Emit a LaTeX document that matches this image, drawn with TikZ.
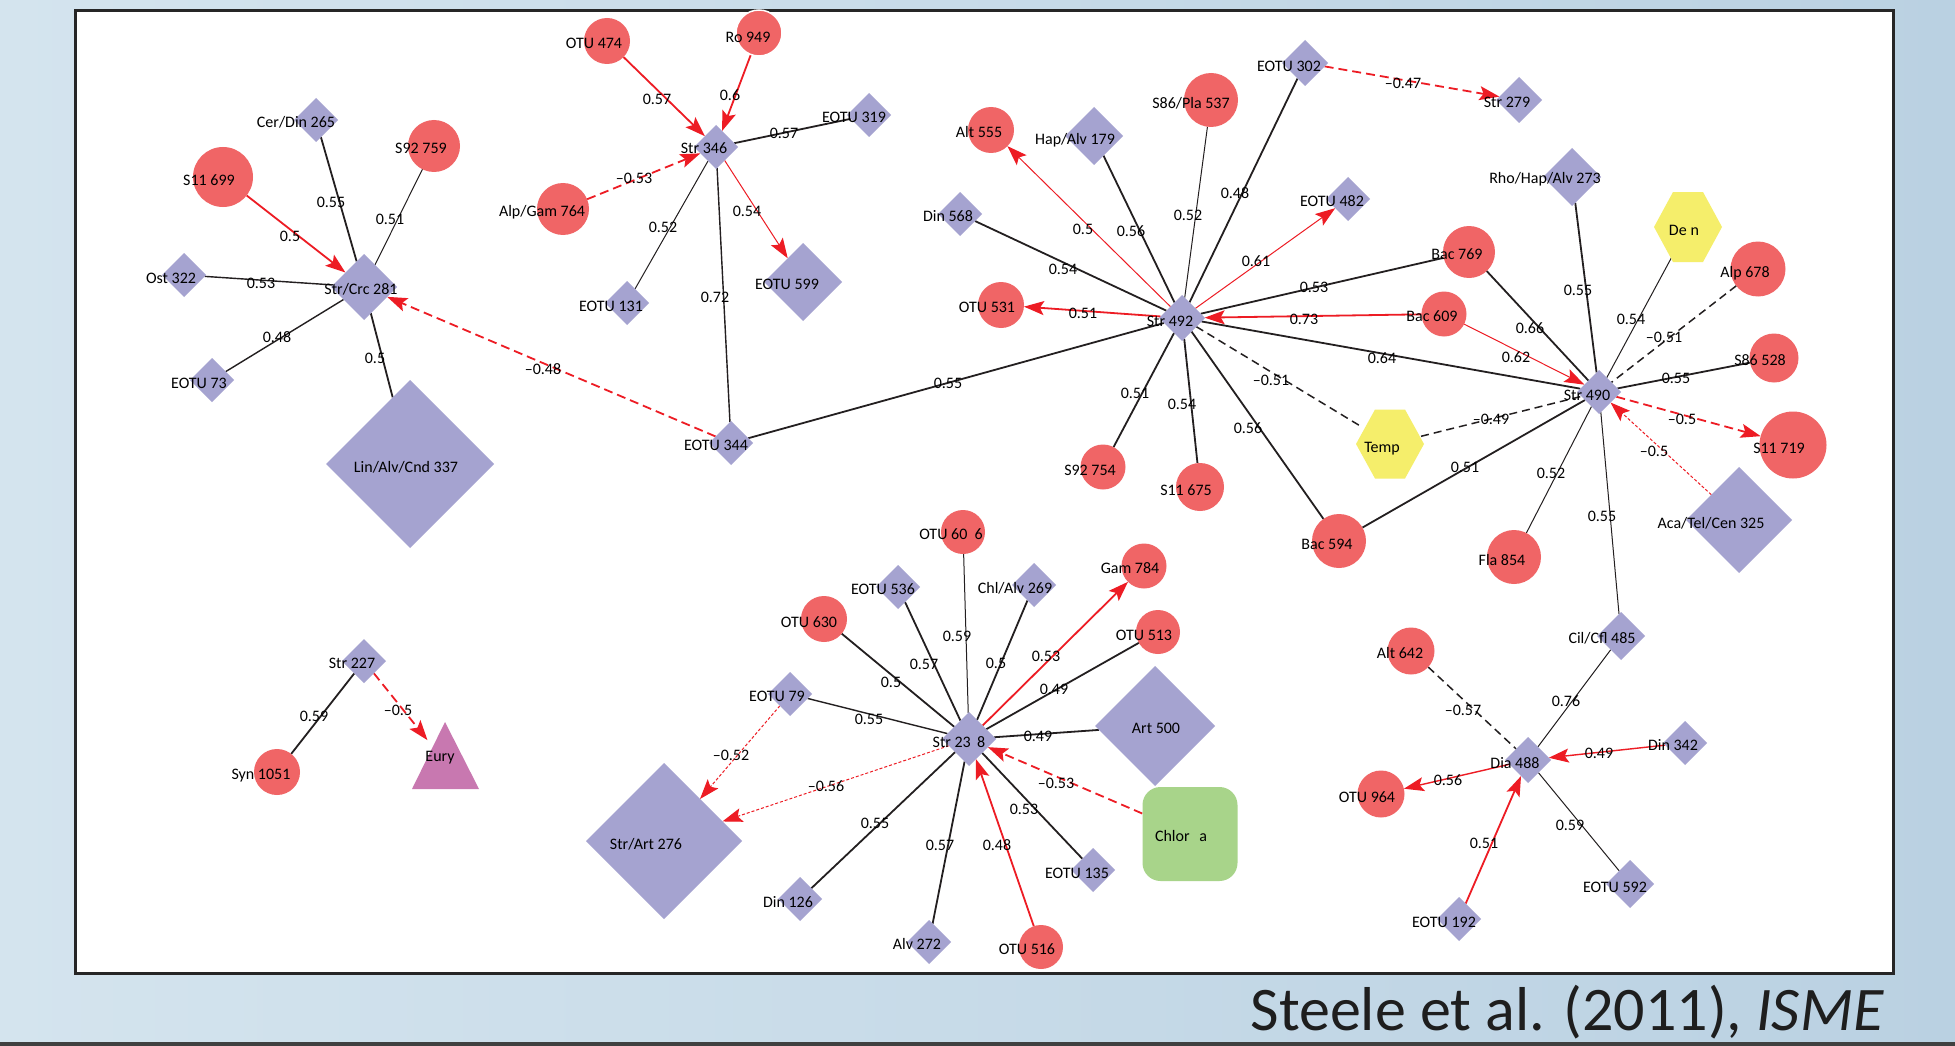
\documentclass[tikz,border=0pt]{standalone}
\usepackage{fontspec}
\setmainfont{Carlito}
\usetikzlibrary{shapes.geometric,arrows.meta}
\definecolor{nred}{RGB}{240,101,102}
\definecolor{nblue}{RGB}{165,163,208}
\definecolor{hexy}{RGB}{245,238,107}
\definecolor{chlg}{RGB}{168,212,138}
\definecolor{euryc}{RGB}{200,120,176}
\definecolor{ered}{RGB}{237,28,36}
\definecolor{eblk}{RGB}{35,31,32}
\definecolor{bgl}{RGB}{212,228,238}
\definecolor{bgr}{RGB}{186,209,226}
\definecolor{capc}{RGB}{30,30,30}
\newcommand\lbfont{\fontsize{16pt}{18pt}\selectfont}
\newcommand\capfont{\fontsize{62pt}{70pt}\selectfont}
\pgfdeclarelayer{back}\pgfdeclarelayer{edges}\pgfdeclarelayer{top}
\pgfsetlayers{back,edges,main,top}
\tikzset{
 circ/.style={circle, fill=nred, inner sep=0pt, outer sep=0pt},
 dia/.style={diamond, aspect=1, fill=nblue, inner sep=0pt, outer sep=0pt},
 inv/.style={circle, inner sep=0pt, outer sep=0pt},
 lb/.style={font=\lbfont, inner sep=0pt, text height=10.3pt, text depth=0pt},
 el/.style={font=\lbfont, inner sep=0pt, text height=10.3pt, text depth=0pt},
 tip/.style={-{Stealth[length=20pt,width=14pt,inset=4pt]}},
 bk/.style={draw=eblk, line width=1.8pt},
 bkm/.style={draw=eblk, line width=1.4pt},
 bkt/.style={draw=eblk, line width=1pt},
 bkd/.style={draw=eblk, line width=1.5pt, dash pattern=on 8pt off 5pt},
 rd/.style={draw=ered, line width=1.8pt, tip},
 rdm/.style={draw=ered, line width=1.4pt, tip},
 rdt/.style={draw=ered, line width=1pt, tip},
 rdd/.style={draw=ered, line width=1.8pt, dash pattern=on 9pt off 5pt, tip},
 rdo/.style={draw=ered, line width=1pt, dash pattern=on 3pt off 2pt, tip},
}
\newcommand\circnode[5]{\node[circ,minimum size=#3pt] (#1) at (#2) {};
 \begin{pgfonlayer}{top}\node[lb] (#1-t) at (#4) {#5};\end{pgfonlayer}}
\newcommand\dianode[5]{\node[dia,minimum size=#3pt] (#1) at (#2) {};
 \begin{pgfonlayer}{top}\node[lb] (#1-t) at (#4) {#5};\end{pgfonlayer}}
\newcommand\edg[5]{\begin{pgfonlayer}{edges}\draw[#1] (#2) -- (#3);\end{pgfonlayer}
 \begin{pgfonlayer}{top}\node[el] (#2-#3) at (#4) {#5};\end{pgfonlayer}}
\begin{document}
\begin{tikzpicture}[x=1pt,y=-1pt]
\useasboundingbox (0,0) rectangle (1955,1046);
\begin{pgfonlayer}{back}
\shade[left color=bgl, right color=bgr] (0,0) rectangle (1955,1046);
\fill[black!75] (0,1042) rectangle (1955,1046);
\draw[fill=white, draw=black!85, line width=3pt] (75,11) rectangle (1893,973);
\end{pgfonlayer}
% nodes
\dianode{n281}{364,287}{66}{361,289}{Str/Crc 281}
\dianode{c265}{316,120}{44}{296,122}{Cer/Din 265}
\circnode{s759}{434,146}{52}{421,148}{S92 759}
\circnode{s699}{223,177}{60}{209,180}{S11 699}
\dianode{o322}{184,275}{44}{171,278}{Ost 322}
\dianode{e73}{212,380}{44}{199,383}{EOTU 73}
\dianode{l337}{410,464}{168}{406,467}{Lin/Alv/Cnd 337}
\dianode{e344}{731,443}{44}{716,445}{EOTU 344}
\dianode{s227}{364,661}{44}{352,663}{Str 227}
\circnode{y1051}{277,772}{46}{261,774}{Syn 1051}
\node[inv, minimum size=56pt] (eury) at (445,762) {};
\fill[euryc] (445,722) -- (479,789) -- (412,789) -- cycle;
\begin{pgfonlayer}{top}\node[lb] (eury-t) at (440,756) {Eury};\end{pgfonlayer}
\circnode{o474}{607,41}{46}{594,43}{OTU 474}
\node[circ, minimum size=46pt, draw=white, line width=1.5pt] (r949) at (759,33) {};
\begin{pgfonlayer}{top}\node[lb] (r949-t) at (748,37) {Ro 949};\end{pgfonlayer}
\dianode{n346}{716,147}{44}{704,148}{Str 346}
\dianode{e319}{869,115}{44}{854,117}{EOTU 319}
\circnode{a764}{563,209}{52}{542,211}{Alp/Gam 764}
\dianode{e131}{627,303}{44}{611,306}{EOTU 131}
\dianode{e599}{803,282}{78}{787,284}{EOTU 599}
\dianode{d568}{960,214}{44}{948,216}{Din 568}
\circnode{a555}{991,130}{46}{979,132}{Alt 555}
\dianode{h179}{1094,136}{58}{1075,139}{Hap/Alv 179}
\circnode{p537}{1211,100}{54}{1191,103}{S86/Pla 537}
\dianode{e302}{1305,63}{46}{1289,66}{EOTU 302}
\dianode{e482}{1348,199}{44}{1332,201}{EOTU 482}
\dianode{n492}{1182,318}{46}{1170,321}{Str 492}
\circnode{o531}{1001,305}{46}{987,307}{OTU 531}
\circnode{b769}{1469,252}{52}{1457,254}{Bac 769}
\circnode{b609}{1444,314}{45}{1432,316}{Bac 609}
\dianode{n279}{1519,100}{46}{1507,102}{Str 279}
\dianode{rho}{1572,177}{58}{1545,178}{Rho/Hap/Alv 273}
\node[inv, minimum size=68pt] (den) at (1688,227) {};
\fill[hexy, shift={(den.center)}] (-34,0) -- (-15,-35) -- (15,-35) -- (34,0) -- (15,35) -- (-15,35) -- cycle;
\begin{pgfonlayer}{top}\node[lb] (den-t) at (1684,230) {De\hspace{0.25em}n};\end{pgfonlayer}
\circnode{a678}{1758,269}{55}{1745,272}{Alp 678}
\circnode{s528}{1774,358}{49}{1760,360}{S86 528}
\dianode{n490}{1599,392}{44}{1587,395}{Str 490}
\circnode{s719}{1793,445}{67}{1779,448}{S11 719}
\dianode{aca}{1739,520}{106}{1711,523}{Aca/Tel/Cen 325}
\circnode{f854}{1514,557}{54}{1502,560}{Fla 854}
\node[inv, minimum size=64pt] (temp) at (1390,444) {};
\fill[hexy, shift={(temp.center)}] (-34,0) -- (-15,-34.5) -- (15,-34.5) -- (34,0) -- (15,34.5) -- (-15,34.5) -- cycle;
\begin{pgfonlayer}{top}\node[lb] (temp-t) at (1382,447) {Temp};\end{pgfonlayer}
\circnode{s754}{1103,467}{45}{1090,470}{S92 754}
\circnode{s675}{1200,487}{48}{1186,490}{S11 675}
\circnode{b594}{1339,541}{54}{1327,544}{Bac 594}
\dianode{cil}{1621,636}{48}{1602,638}{Cil/Cfl 485}
\circnode{a642}{1411,651}{47}{1400,653}{Alt 642}
\dianode{dia}{1528,760}{46}{1515,763}{Dia 488}
\dianode{d342}{1685,743}{44}{1673,745}{Din 342}
\circnode{o964}{1381,794}{47}{1367,797}{OTU 964}
\dianode{e592}{1630,884}{48}{1615,887}{EOTU 592}
\dianode{e192}{1459,919}{44}{1444,922}{EOTU 192}
\circnode{o606}{963,532}{44}{951,534}{OTU 60\hspace{0.45em}6}
\circnode{g784}{1144,566}{45}{1130,568}{Gam 784}
\dianode{e536}{898,587}{44}{883,589}{EOTU 536}
\dianode{c269}{1034,585}{44}{1015,588}{Chl/Alv 269}
\circnode{o630}{824,619}{46}{809,622}{OTU 630}
\circnode{o513}{1158,632}{44}{1144,635}{OTU 513}
\dianode{e79}{790,694}{44}{777,696}{EOTU 79}
\dianode{n238}{969,739}{54}{959,742}{Str 23\hspace{0.4em}8}
\dianode{art500}{1155,726}{120}{1156,728}{Art 500}
\node[rectangle, rounded corners=18pt, fill=chlg, minimum width=95pt, minimum height=94pt, inner sep=0pt] (chl) at (1190,834) {};
\begin{pgfonlayer}{top}\node[lb] (chl-t) at (1181,836) {Chlor\hspace{0.6em}a};\end{pgfonlayer}
\dianode{e135}{1093,870}{44}{1077,873}{EOTU 135}
\dianode{d126}{800,899}{44}{788,902}{Din 126}
\dianode{a272}{929,942}{44}{917,944}{Alv 272}
\circnode{o516}{1041,947}{44}{1027,949}{OTU 516}
\dianode{art276}{664,841}{156}{646,844}{Str/Art 276}
% edges
\edg{rd}{s699}{n281}{290,236}{0.5}
\edg{bk}{c265}{n281}{331,202}{0.55}
\edg{bkt}{s759}{n281}{390,219}{0.51}
\edg{bkm}{o322}{n281}{261,283}{0.53}
\edg{bkm}{e73}{n281}{277,337}{0.48}
\edg{bk}{l337}{n281}{375,358}{0.5}
\edg{rdd}{e344}{n281}{543,369}{–0.48}
\edg{rd}{o474}{n346}{657,99}{0.57}
\edg{rd}{r949}{n346}{730,95}{0.6}
\edg{bk}{e319}{n346}{784,133}{0.57}
\edg{rdd}{a764}{n346}{634,178}{–0.53}
\edg{bkt}{e131}{n346}{663,227}{0.52}
\edg{rdt}{n346}{e599}{747,211}{0.54}
\edg{bkm}{n346}{e344}{715,297}{0.72}
\edg{bk}{e344}{n492}{948,383}{0.55}
\edg{rdt}{n492}{a555}{1083,229}{0.5}
\edg{bk}{h179}{n492}{1131,231}{0.56}
\edg{bkt}{p537}{n492}{1188,215}{0.52}
\edg{bk}{e302}{n492}{1235,193}{0.48}
\edg{rdt}{n492}{e482}{1256,261}{0.61}
\edg{bk}{d568}{n492}{1063,269}{0.54}
\edg{rd}{n492}{o531}{1083,313}{0.51}
\edg{bk}{b769}{n492}{1314,287}{0.53}
\edg{rd}{b609}{n492}{1304,319}{0.73}
\edg{bk}{n492}{n490}{1382,358}{0.64}
\edg{bkd}{n492}{temp}{1271,380}{–0.51}
\edg{bk}{s754}{n492}{1135,393}{0.51}
\edg{bk}{s675}{n492}{1182,404}{0.54}
\edg{bk}{b594}{n492}{1248,428}{0.56}
\edg{rdd}{e302}{n279}{1403,83}{–0.47}
\edg{bk}{rho}{n490}{1578,290}{0.55}
\edg{bk}{b769}{n490}{1530,328}{0.66}
\edg{rdt}{b609}{n490}{1516,357}{0.62}
\edg{bkt}{den}{n490}{1631,319}{0.54}
\edg{bkd}{a678}{n490}{1664,337}{–0.51}
\edg{bk}{s528}{n490}{1676,378}{0.55}
\edg{rdd}{n490}{s719}{1682,419}{–0.5}
\edg{rdo}{aca}{n490}{1654,451}{–0.5}
\edg{bkd}{temp}{n490}{1491,419}{–0.49}
\edg{bk}{b594}{n490}{1465,467}{0.51}
\edg{bkt}{f854}{n490}{1551,473}{0.52}
\edg{bkt}{cil}{n490}{1602,516}{0.55}
\edg{bkt}{cil}{dia}{1566,701}{0.76}
\edg{bkd}{a642}{dia}{1463,710}{–0.57}
\edg{rdm}{d342}{dia}{1599,753}{0.49}
\edg{rdm}{dia}{o964}{1448,780}{0.56}
\edg{rd}{e192}{dia}{1484,843}{0.51}
\edg{bkt}{e592}{dia}{1570,825}{0.59}
\edg{bk}{y1051}{s227}{314,716}{0.59}
\edg{rdd}{s227}{eury}{398,710}{–0.5}
\edg{bkt}{o606}{n238}{957,636}{0.59}
\edg{bk}{e536}{n238}{924,664}{0.57}
\edg{bk}{c269}{n238}{996,663}{0.5}
\edg{rd}{n238}{g784}{1046,656}{0.53}
\edg{bk}{o513}{n238}{1054,689}{0.49}
\edg{bk}{o630}{n238}{891,682}{0.5}
\edg{bkm}{e79}{n238}{869,719}{0.55}
\edg{bk}{art500}{n238}{1038,736}{0.49}
\edg{rdd}{chl}{n238}{1056,783}{–0.53}
\edg{rdo}{n238}{art276}{826,786}{–0.56}
\edg{rdo}{e79}{art276}{731,755}{–0.52}
\edg{bk}{d126}{n238}{875,823}{0.55}
\edg{bk}{a272}{n238}{940,845}{0.57}
\edg{rd}{o516}{n238}{997,845}{0.48}
\edg{bk}{e135}{n238}{1024,809}{0.53}
% caption
\node[anchor=base east, font=\capfont, text=capc, inner sep=0pt] (cap) at (1884,1030) {Steele et al. (2011), \textit{ISME}};
\end{tikzpicture}
\end{document}
